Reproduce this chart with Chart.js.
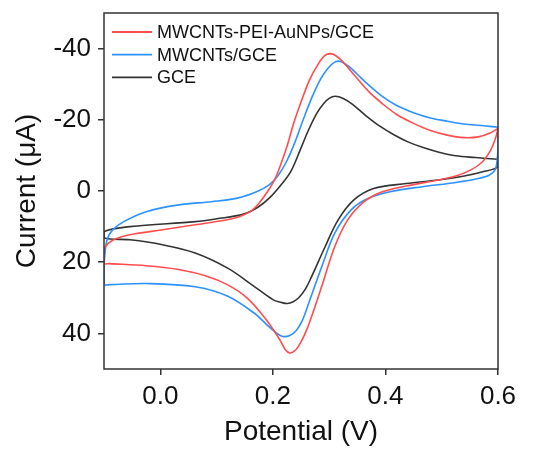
<!DOCTYPE html>
<html lang="en">
<head>
    <meta charset="UTF-8">
    <title>CV curves</title>
    <script src="https://cdn.jsdelivr.net/npm/chart.js"></script>
    <style>
        body { margin: 0; background: #fff; }
        canvas { display: block; }
    </style>
</head>
<body>
    <canvas id="cvChart" width="536" height="450"></canvas>

    <script>
        // series names (legend order)
        const seriesNames = ['MWCNTs-PEI-AuNPs/GCE', 'MWCNTs/GCE', 'GCE'];

        // MWCNTs-PEI-AuNPs/GCE : potential (V) / current (uA), one closed loop
        const redPotential = [0.6, 0.585, 0.565, 0.54, 0.51, 0.48, 0.45, 0.42, 0.395, 0.37, 0.345, 0.325, 0.312, 0.302, 0.292, 0.28, 0.266, 0.25, 0.237, 0.225, 0.213, 0.203, 0.19, 0.175, 0.16, 0.14, 0.119, 0.062, 0.004, -0.054, -0.08, -0.093, -0.1, -0.1, -0.09, -0.025, 0.03, 0.08, 0.119, 0.154, 0.188, 0.212, 0.222, 0.23, 0.238, 0.246, 0.256, 0.266, 0.287, 0.31, 0.333, 0.362, 0.391, 0.437, 0.494, 0.525, 0.55, 0.571, 0.587, 0.596, 0.6];
        const redCurrent = [-17.6, -16.2, -15.2, -15.0, -15.7, -17.0, -19.0, -21.5, -24.5, -28.0, -32.5, -36.2, -38.0, -38.6, -38.0, -35.5, -31.5, -25.0, -19.0, -12.5, -7.0, -3.1, 0.3, 3.5, 5.8, 7.2, 8.1, 9.5, 10.9, 12.3, 13.5, 14.8, 16.5, 20.3, 20.4, 21.0, 22.0, 23.8, 26.3, 30.0, 36.1, 41.7, 44.5, 45.5, 45.0, 43.5, 40.5, 36.5, 26.7, 15.6, 8.1, 3.0, 0.4, -1.4, -3.1, -4.2, -5.8, -8.0, -11.5, -15.0, -17.6];

        // MWCNTs/GCE
        const bluePotential = [0.6, 0.57, 0.54, 0.51, 0.48, 0.45, 0.42, 0.395, 0.37, 0.35, 0.335, 0.32, 0.31, 0.298, 0.285, 0.27, 0.255, 0.24, 0.225, 0.21, 0.194, 0.171, 0.137, 0.091, 0.033, -0.025, -0.065, -0.085, -0.094, -0.098, -0.1, -0.1, -0.09, -0.025, 0.062, 0.119, 0.166, 0.195, 0.21, 0.219, 0.23, 0.241, 0.252, 0.264, 0.287, 0.31, 0.339, 0.368, 0.408, 0.466, 0.525, 0.565, 0.585, 0.595, 0.599, 0.6, 0.6];
        const blueCurrent = [-17.9, -18.4, -18.8, -19.6, -20.5, -22.0, -24.0, -26.5, -29.8, -32.8, -35.0, -36.4, -36.2, -34.5, -31.5, -26.5, -20.5, -14.0, -8.5, -4.5, -1.8, 0.2, 2.0, 3.0, 3.9, 5.8, 8.6, 11.0, 13.5, 17.0, 21.5, 26.2, 26.3, 26.0, 26.9, 29.5, 34.2, 38.4, 40.3, 40.9, 40.6, 39.3, 36.5, 31.4, 21.2, 11.8, 5.3, 2.2, 0.2, -1.2, -2.4, -3.5, -4.5, -6.0, -9.5, -14.0, -17.9];

        // GCE
        const blackPotential = [0.6, 0.56, 0.525, 0.495, 0.467, 0.44, 0.415, 0.39, 0.365, 0.341, 0.325, 0.311, 0.3, 0.29, 0.278, 0.263, 0.249, 0.232, 0.214, 0.195, 0.174, 0.148, 0.1, 0.062, -0.054, -0.1, -0.1, -0.054, 0.004, 0.062, 0.119, 0.166, 0.2, 0.215, 0.226, 0.236, 0.246, 0.258, 0.269, 0.293, 0.316, 0.344, 0.379, 0.437, 0.494, 0.54, 0.573, 0.6, 0.6];
        const blackCurrent = [-8.9, -9.4, -9.9, -10.9, -12.2, -13.8, -15.8, -18.2, -21.2, -24.4, -26.0, -26.6, -26.0, -24.5, -21.8, -17.0, -11.7, -5.5, -1.6, 1.8, 4.5, 6.5, 7.8, 8.6, 10.0, 11.4, 13.2, 13.7, 15.1, 17.4, 21.6, 26.7, 30.5, 31.3, 31.6, 31.1, 30.0, 27.5, 24.0, 15.6, 8.1, 2.5, -0.7, -2.1, -3.1, -4.2, -5.4, -6.8, -8.9];

        const xTickValues = [0.0, 0.2, 0.4, 0.6];
        const yTickValues = [-40, -20, 0, 20, 40];

        const fontFamily = 'Arial, "Liberation Sans", sans-serif';

        function toPoints(xs, ys) {
            return xs.map((x, i) => ({ x: x, y: ys[i] }));
        }

        // frame around plot area
        const framePlugin = {
            id: 'frame',
            afterDraw(chart) {
                const { ctx, chartArea: a } = chart;
                ctx.save();
                ctx.strokeStyle = '#333';
                ctx.lineWidth = 1.5;
                ctx.strokeRect(a.left, a.top, a.right - a.left, a.bottom - a.top);
                ctx.restore();
            }
        };

        // legend drawn inside the plot, top left
        const innerLegend = {
            id: 'innerLegend',
            afterDraw(chart) {
                const ctx = chart.ctx;
                const a = chart.chartArea;
                ctx.save();
                ctx.font = '18px ' + fontFamily;
                ctx.textBaseline = 'middle';
                chart.data.datasets.forEach((ds, i) => {
                    const y = a.top + 19 + i * 22.7;
                    ctx.strokeStyle = ds.borderColor;
                    ctx.lineWidth = 1.8;
                    ctx.beginPath();
                    ctx.moveTo(a.left + 8, y);
                    ctx.lineTo(a.left + 48, y);
                    ctx.stroke();
                    ctx.fillStyle = '#111';
                    ctx.fillText(ds.label, a.left + 53, y + 1);
                });
                ctx.restore();
            }
        };

        const ctx = document.getElementById('cvChart').getContext('2d');
        new Chart(ctx, {
            type: 'scatter',
            data: {
                datasets: [
                    { label: seriesNames[0], data: toPoints(redPotential, redCurrent), borderColor: '#ff4d4f' },
                    { label: seriesNames[1], data: toPoints(bluePotential, blueCurrent), borderColor: '#2b92ff' },
                    { label: seriesNames[2], data: toPoints(blackPotential, blackCurrent), borderColor: '#333333' }
                ].map(d => Object.assign(d, {
                    showLine: true,
                    pointRadius: 0,
                    borderWidth: 1.6,
                    tension: 0.35,
                    fill: false
                }))
            },
            options: {
                responsive: false,
                animation: false,
                layout: { padding: { top: 13, right: 38, left: 0, bottom: 0 } },
                plugins: {
                    legend: { display: false },
                    tooltip: { enabled: false }
                },
                scales: {
                    x: {
                        type: 'linear',
                        min: -0.1,
                        max: 0.6,
                        afterBuildTicks: s => { s.ticks = xTickValues.map(v => ({ value: v })); },
                        afterFit: s => { s.height = 81; s.paddingLeft = 0; s.paddingRight = 0; },
                        ticks: {
                            color: '#111',
                            font: { family: fontFamily, size: 26 },
                            padding: 6,
                            maxRotation: 0,
                            callback: v => v.toFixed(1)
                        },
                        grid: { drawOnChartArea: false, drawTicks: true, tickLength: 6, color: '#333', lineWidth: 1.5 },
                        border: { display: false },
                        title: { display: true, text: 'Potential (V)', color: '#111', font: { family: fontFamily, size: 28 }, padding: { top: 0, bottom: 1 } }
                    },
                    y: {
                        min: -50,
                        max: 50,
                        reverse: true,
                        afterBuildTicks: s => { s.ticks = yTickValues.map(v => ({ value: v })); },
                        afterFit: s => { s.width = 104; s.paddingTop = 0; s.paddingBottom = 0; },
                        ticks: {
                            color: '#111',
                            font: { family: fontFamily, size: 26 },
                            padding: 7
                        },
                        grid: { drawOnChartArea: false, drawTicks: true, tickLength: 6, color: '#333', lineWidth: 1.5 },
                        border: { display: false },
                        title: { display: true, text: 'Current (μA)', color: '#111', font: { family: fontFamily, size: 28 }, padding: { top: 10, bottom: 0 } }
                    }
                }
            },
            plugins: [framePlugin, innerLegend]
        });
    </script>
</body>
</html>
